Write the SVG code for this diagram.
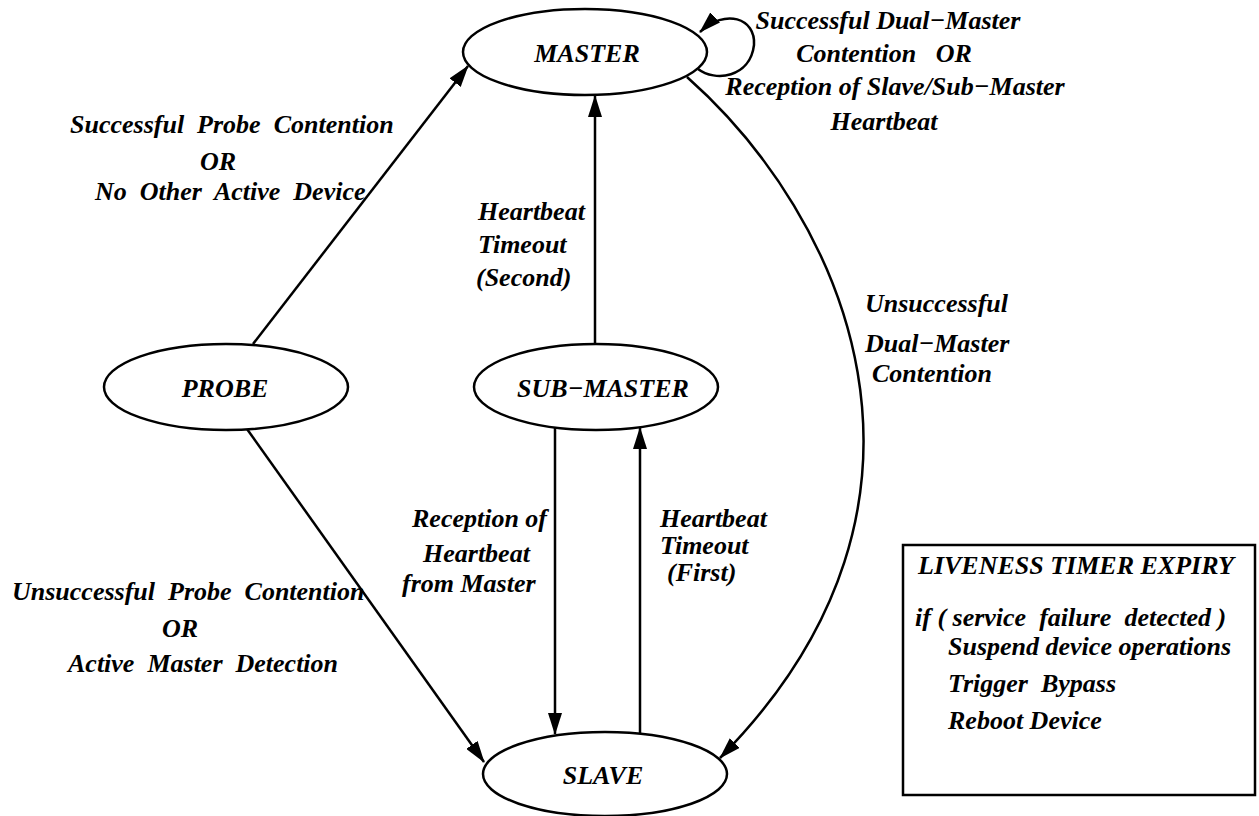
<svg xmlns="http://www.w3.org/2000/svg" width="1259" height="816" viewBox="0 0 1259 816">
<style>
.t{font-family:"Liberation Serif","Times New Roman",serif;font-weight:bold;font-style:italic;font-size:26px;fill:#000}
.n{fill:#fff;stroke:#000;stroke-width:2.5}
.c{fill:none;stroke:#000;stroke-width:2.5}
</style>
<defs>
<marker id="ah" viewBox="0 0 22 14" refX="21" refY="7" markerWidth="22" markerHeight="14" orient="auto" markerUnits="userSpaceOnUse">
<path d="M0,0 L22,7 L0,14 z" fill="#000"/>
</marker>
</defs>
<rect width="1259" height="816" fill="#fff"/>
<g id="connectors">
<line class="c" x1="253" y1="344" x2="468" y2="66" marker-end="url(#ah)"/>
<line class="c" x1="247" y1="429" x2="484" y2="762" marker-end="url(#ah)"/>
<line class="c" x1="595" y1="345" x2="595" y2="96" marker-end="url(#ah)"/>
<line class="c" x1="555" y1="428" x2="555" y2="734" marker-end="url(#ah)"/>
<line class="c" x1="640" y1="734" x2="640" y2="428" marker-end="url(#ah)"/>
<path class="c" d="M687,77 C843,215 975,500 720,758" marker-end="url(#ah)"/>
<path class="c" d="M698,69 C715,82 750,78 754,45 C756,18 725,8 700,32" marker-end="url(#ah)"/>
</g>
<g id="MASTER"><ellipse class="n" cx="585" cy="52" rx="122" ry="43"/><text class="t" x="587" y="62" text-anchor="middle">MASTER</text></g>
<g id="PROBE"><ellipse class="n" cx="226" cy="387" rx="122" ry="43"/><text class="t" x="225" y="397" text-anchor="middle">PROBE</text></g>
<g id="SUB-MASTER"><ellipse class="n" cx="596" cy="387" rx="122" ry="43"/><text class="t" x="603" y="397" text-anchor="middle">SUB−MASTER</text></g>
<g id="SLAVE"><ellipse class="n" cx="605" cy="774" rx="122" ry="42"/><text class="t" x="603" y="784" text-anchor="middle">SLAVE</text></g>
<g id="labels">
<text class="t" x="888" y="29" text-anchor="middle">Successful Dual−Master</text>
<text class="t" x="884" y="62" text-anchor="middle" xml:space="preserve">Contention   OR</text>
<text class="t" x="895" y="95" text-anchor="middle">Reception of Slave/Sub−Master</text>
<text class="t" x="884" y="130" text-anchor="middle">Heartbeat</text>
<text class="t" x="70" y="133" xml:space="preserve">Successful  Probe  Contention</text>
<text class="t" x="200" y="170">OR</text>
<text class="t" x="95" y="200" xml:space="preserve">No  Other  Active  Device</text>
<text class="t" x="478" y="220">Heartbeat</text>
<text class="t" x="478" y="253">Timeout</text>
<text class="t" x="476" y="286">(Second)</text>
<text class="t" x="865" y="312">Unsuccessful</text>
<text class="t" x="865" y="352">Dual−Master</text>
<text class="t" x="872" y="382">Contention</text>
<text class="t" x="412" y="527">Reception of</text>
<text class="t" x="423" y="562">Heartbeat</text>
<text class="t" x="402" y="592">from Master</text>
<text class="t" x="660" y="527">Heartbeat</text>
<text class="t" x="660" y="554">Timeout</text>
<text class="t" x="667" y="581">(First)</text>
<text class="t" x="12" y="600" xml:space="preserve">Unsuccessful  Probe  Contention</text>
<text class="t" x="162" y="637">OR</text>
<text class="t" x="68" y="672" xml:space="preserve">Active  Master  Detection</text>
</g>
<g id="liveness-box">
<rect x="903" y="545" width="352" height="250" fill="none" stroke="#000" stroke-width="2.5"/>
<text class="t" x="918" y="574">LIVENESS TIMER EXPIRY</text>
<text class="t" x="915" y="626" xml:space="preserve">if ( service  failure  detected )</text>
<text class="t" x="948" y="655">Suspend device operations</text>
<text class="t" x="948" y="692" xml:space="preserve">Trigger  Bypass</text>
<text class="t" x="948" y="729">Reboot Device</text>
</g>
</svg>
